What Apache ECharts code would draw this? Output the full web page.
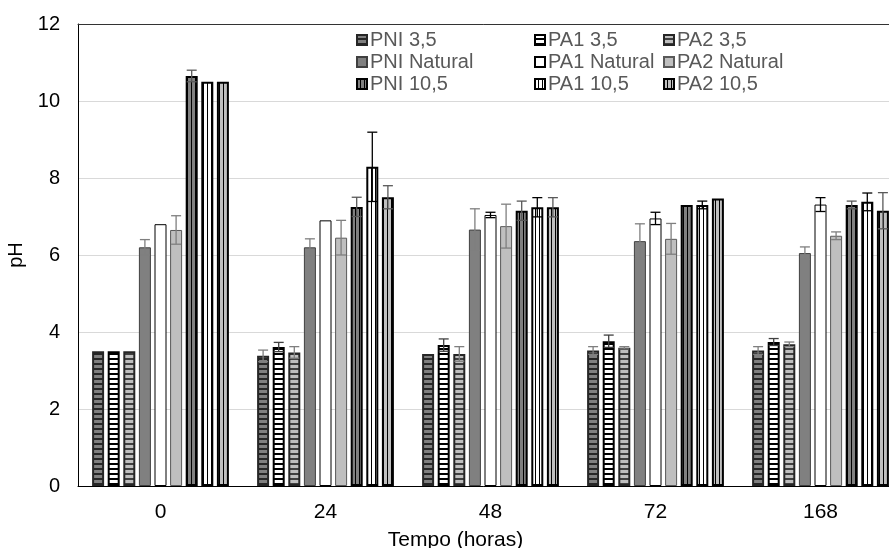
<!DOCTYPE html>
<html>
<head>
<meta charset="utf-8">
<script src="https://cdn.jsdelivr.net/npm/echarts@6/dist/echarts.min.js"></script>
<style>
  html, body { margin: 0; padding: 0; background: #fff; }
  #chart { width: 889px; height: 548px; }
</style>
</head>
<body>
<div id="chart"></div>
<script>
const categories = ['0', '24', '48', '72', '168'];
const yTicks = [0, 2, 4, 6, 8, 10, 12];

const pni35 = [3.5, 3.38, 3.43, 3.52, 3.52];
const pa135 = [3.5, 3.61, 3.66, 3.76, 3.74];
const pa235 = [3.5, 3.47, 3.43, 3.59, 3.68];
const pniNat = [6.2, 6.2, 6.66, 6.36, 6.05];
const pa1Nat = [6.8, 6.9, 7.04, 6.95, 7.31];
const pa2Nat = [6.65, 6.45, 6.75, 6.42, 6.5];
const pni105 = [10.65, 7.25, 7.15, 7.3, 7.3];
const pa1105 = [10.5, 8.29, 7.24, 7.3, 7.38];
const pa2105 = [10.5, 7.5, 7.24, 7.47, 7.15];

const pni35Err = [0, 0.15, 0, 0.1, 0.1];
const pa135Err = [0, 0.12, 0.16, 0.16, 0.09];
const pa235Err = [0, 0.15, 0.19, 0.03, 0.06];
const pniNatErr = [0.2, 0.22, 0.54, 0.45, 0.16];
const pa1NatErr = [0, 0, 0.07, 0.16, 0.18];
const pa2NatErr = [0.37, 0.45, 0.57, 0.4, 0.1];
const pni105Err = [0.15, 0.25, 0.25, 0, 0.1];
const pa1105Err = [0, 0.9, 0.25, 0.1, 0.23];
const pa2105Err = [0, 0.3, 0.25, 0, 0.47];

// stripe fills
function hStripes(base, line) {
  const c = document.createElement('canvas');
  c.width = 4; c.height = 5;
  const g = c.getContext('2d');
  g.fillStyle = base; g.fillRect(0, 0, 4, 5);
  g.fillStyle = line; g.fillRect(0, 3, 4, 2);
  return { image: c, repeat: 'repeat' };
}
function vStripes(base, line) {
  const c = document.createElement('canvas');
  c.width = 4; c.height = 4;
  const g = c.getContext('2d');
  g.fillStyle = base; g.fillRect(0, 0, 4, 4);
  g.fillStyle = line; g.fillRect(3, 0, 1.5, 4);
  return { image: c, repeat: 'repeat' };
}

const seriesDefs = [
  { name: 'PNI 3,5', data: pni35, err: pni35Err, color: hStripes('#808080', '#262626'), border: '#262626', bw: 2, errColor: '#7f7f7f' },
  { name: 'PA1 3,5', data: pa135, err: pa135Err, color: hStripes('#ffffff', '#000000'), border: '#000', bw: 2, errColor: '#404040' },
  { name: 'PA2 3,5', data: pa235, err: pa235Err, color: hStripes('#bfbfbf', '#404040'), border: '#262626', bw: 2, errColor: '#7f7f7f' },
  { name: 'PNI Natural', data: pniNat, err: pniNatErr, color: '#808080', border: '#404040', bw: 1, errColor: '#7f7f7f' },
  { name: 'PA1 Natural', data: pa1Nat, err: pa1NatErr, color: '#ffffff', border: '#000', bw: 1, errColor: '#000' },
  { name: 'PA2 Natural', data: pa2Nat, err: pa2NatErr, color: '#bfbfbf', border: '#595959', bw: 1, errColor: '#7f7f7f' },
  { name: 'PNI 10,5', data: pni105, err: pni105Err, color: vStripes('#808080', '#000000'), border: '#000', bw: 2, errColor: '#595959' },
  { name: 'PA1 10,5', data: pa1105, err: pa1105Err, color: vStripes('#ffffff', '#000000'), border: '#000', bw: 2, errColor: '#000' },
  { name: 'PA2 10,5', data: pa2105, err: pa2105Err, color: vStripes('#bfbfbf', '#000000'), border: '#000', bw: 2, errColor: '#595959' }
];

const BAR_W = 12;
const PITCH = 15.6;

const barSeries = seriesDefs.map(s => ({
  name: s.name,
  type: 'bar',
  barWidth: BAR_W,
  barGap: '30%',
  data: s.data,
  itemStyle: { color: s.color, borderColor: s.border, borderWidth: s.bw },
  emphasis: { disabled: true }
}));

const errData = [];
seriesDefs.forEach((s, si) => {
  s.data.forEach((v, ci) => {
    if (s.err[ci] > 0) errData.push([ci, v, s.err[ci], si]);
  });
});

const errSeries = {
  type: 'custom',
  z: 5,
  silent: true,
  data: errData,
  renderItem: function (params, api) {
    const ci = api.value(0), v = api.value(1), e = api.value(2), si = api.value(3);
    const hi = api.coord([ci, v + e]);
    const lo = api.coord([ci, v - e]);
    const x = hi[0] + (si - 4) * PITCH;
    const stroke = { stroke: seriesDefs[si].errColor, lineWidth: 1.3 };
    return {
      type: 'group',
      children: [
        { type: 'line', shape: { x1: x, y1: hi[1], x2: x, y2: lo[1] }, style: stroke },
        { type: 'line', shape: { x1: x - 5, y1: hi[1], x2: x + 5, y2: hi[1] }, style: stroke },
        { type: 'line', shape: { x1: x - 5, y1: lo[1], x2: x + 5, y2: lo[1] }, style: stroke }
      ]
    };
  }
};

function legendCol(left, names) {
  return {
    orient: 'vertical',
    left: left,
    top: 25,
    icon: 'rect',
    itemWidth: 10,
    itemHeight: 10,
    itemGap: 2,
    selectedMode: false,
    textStyle: { fontFamily: 'Liberation Sans', fontSize: 20, color: '#595959', padding: [0, 0, 0, -2] },
    data: names
  };
}

const option = {
  animation: false,
  textStyle: { fontFamily: 'Liberation Sans' },
  legend: [
    legendCol(351, ['PNI 3,5', 'PNI Natural', 'PNI 10,5']),
    legendCol(529, ['PA1 3,5', 'PA1 Natural', 'PA1 10,5']),
    legendCol(658, ['PA2 3,5', 'PA2 Natural', 'PA2 10,5'])
  ],
  grid: { left: 78, right: -14, top: 24, bottom: 62, outerBoundsMode: 'none' },
  xAxis: [
    {
      type: 'category',
      data: categories,
      axisLine: { lineStyle: { color: '#000', width: 1 } },
      axisTick: { show: false },
      axisLabel: { fontSize: 21, color: '#000', margin: 16 },
      name: 'Tempo (horas)',
      nameLocation: 'middle',
      nameGap: 44,
      nameTextStyle: { fontSize: 21, color: '#000', padding: [0, 70, 0, 0] }
    },
    {
      type: 'category',
      data: categories,
      position: 'top',
      axisLine: { lineStyle: { color: '#333', width: 1 } },
      axisTick: { show: false },
      axisLabel: { show: false }
    }
  ],
  yAxis: {
    type: 'value',
    min: yTicks[0],
    max: yTicks[yTicks.length - 1],
    interval: 2,
    axisLine: { show: true, lineStyle: { color: '#000', width: 1 } },
    axisTick: { show: false },
    axisLabel: { fontSize: 20, color: '#000', margin: 18 },
    splitLine: { lineStyle: { color: '#d9d9d9', width: 1 } },
    name: 'pH',
    nameLocation: 'middle',
    nameGap: 52,
    nameTextStyle: { fontSize: 20, color: '#000' }
  },
  series: [...barSeries, errSeries]
};

const chart = echarts.init(document.getElementById('chart'), null, { renderer: 'canvas' });
chart.setOption(option);
</script>
</body>
</html>
